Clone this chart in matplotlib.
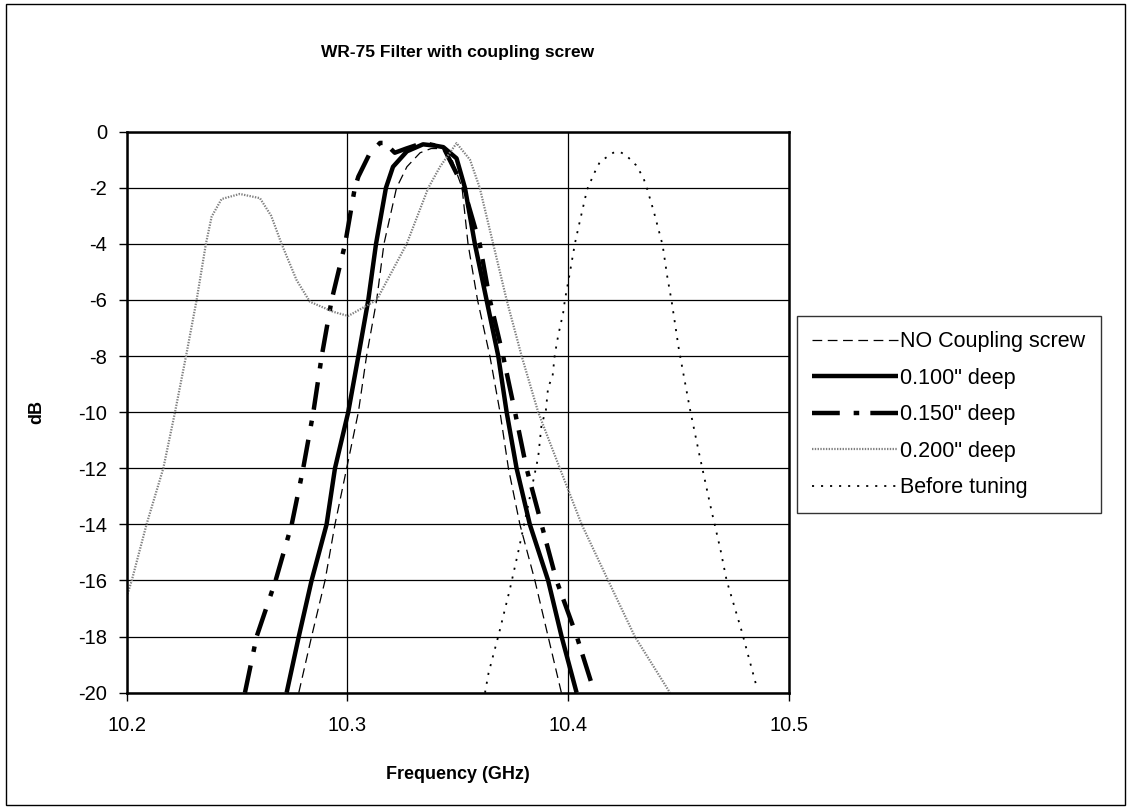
"""WR-75 filter response with coupling screw -- Excel-style line chart."""
import matplotlib
matplotlib.use("Agg")
import matplotlib.pyplot as plt
from matplotlib.patches import Rectangle

plt.rcParams.update({"font.family": ["Liberation Sans", "DejaVu Sans"],
                     "lines.scale_dashes": False})

# ---- data (GHz, dB) ----
f_none = [10.278, 10.2838, 10.2899, 10.2944, 10.2997, 10.305, 10.3087, 10.3133,
          10.3166, 10.3223, 10.327, 10.333, 10.338, 10.343, 10.347, 10.352,
          10.3547, 10.359, 10.3646, 10.3692, 10.373, 10.3782, 10.385, 10.391, 10.397]
db_none = [-20, -18, -16, -14, -12, -10, -8, -6, -4, -2, -1.25, -0.75, -0.6, -0.6,
           -0.9, -2, -4, -6, -8, -10, -12, -14, -16, -18, -20]

f_100 = [10.2725, 10.278, 10.2838, 10.2906, 10.2944, 10.3004, 10.305, 10.3095,
         10.313, 10.3175, 10.3207, 10.327, 10.3343, 10.34, 10.3435, 10.3495,
         10.3533, 10.3578, 10.3631, 10.3684, 10.3722, 10.3767, 10.3827, 10.391,
         10.3971, 10.4039]
db_100 = [-20, -18, -16, -14, -12, -10, -8, -6, -4, -2, -1.25, -0.7, -0.45, -0.5,
          -0.55, -0.95, -2, -4, -6, -8, -10, -12, -14, -16, -18, -20]

f_150 = [10.2536, 10.2589, 10.2675, 10.2748, 10.28, 10.2846, 10.2884, 10.2929,
         10.299, 10.3034, 10.305, 10.31, 10.3148, 10.317, 10.3215, 10.3267,
         10.3343, 10.3435, 10.3525, 10.36, 10.3646, 10.3706, 10.376, 10.3812,
         10.388, 10.3948, 10.404, 10.412]
db_150 = [-20, -18, -16, -14, -12, -10, -8, -6, -4, -2, -1.6, -0.8, -0.4, -0.4,
          -0.75, -0.6, -0.4, -0.55, -1.96, -4, -6, -8, -10, -12, -14, -16, -18, -20]

f_200 = [10.2, 10.2023, 10.209, 10.2166, 10.2219, 10.2269, 10.2317, 10.2359,
         10.2385, 10.243, 10.2513, 10.2604, 10.2655, 10.2702, 10.277, 10.283,
         10.2936, 10.3004, 10.3133, 10.3269, 10.3367, 10.342, 10.3495, 10.3556,
         10.36, 10.3661, 10.3722, 10.379, 10.3865, 10.3963, 10.4062, 10.4182,
         10.4303, 10.4462]
db_200 = [-16.58, -16, -14, -12, -10, -8, -6, -4, -3.03, -2.4, -2.22, -2.37, -3.0,
          -4, -5.29, -6.06, -6.42, -6.57, -6.0, -4, -2, -1.25, -0.41, -1.0, -2, -4,
          -6, -8, -10, -12, -14, -16, -18, -20]

f_before = [10.3624, 10.364, 10.3687, 10.3737, 10.3774, 10.382, 10.3865, 10.388,
            10.39, 10.391, 10.393, 10.394, 10.3956, 10.3978, 10.3986, 10.4008,
            10.4031, 10.4048, 10.4087, 10.4122, 10.4145, 10.4205, 10.4235,
            10.4262, 10.4308, 10.4341, 10.4359, 10.4389, 10.4429, 10.445, 10.447,
            10.4503, 10.4552, 10.4595, 10.465, 10.4691, 10.4719, 10.4787,
            10.4821, 10.4857]
db_before = [-20, -19.3, -17.9, -16.3, -15.0, -13.3, -11.6, -10.46, -9.92, -9.11,
             -8.73, -7.96, -7.25, -6.47, -6, -5.05, -4, -3.39, -2.05, -1.43, -1.07,
             -0.75, -0.72, -0.83, -1.19, -1.63, -2.05, -2.85, -4.05, -5.17, -6.06,
             -7.78, -9.86, -11.5, -13.5, -14.9, -16, -17.8, -18.8, -19.85]

labels = ["NO Coupling screw", '0.100" deep', '0.150" deep', '0.200" deep',
          "Before tuning"]
xticks = [10.2, 10.3, 10.4, 10.5]
xtick_labels = ["10.2", "10.3", "10.4", "10.5"]
yticks = [0, -2, -4, -6, -8, -10, -12, -14, -16, -18, -20]
ytick_labels = ["0", "-2", "-4", "-6", "-8", "-10", "-12", "-14", "-16", "-18", "-20"]

fig = plt.figure(figsize=(11.31, 8.09), dpi=100)
ax = fig.add_axes([0.112, 0.1438, 0.5853, 0.6934])

ax.plot(f_none, db_none, color="black", lw=0.9, dashes=(7, 4), label=labels[0])
ax.plot(f_100, db_100, color="black", lw=3.2, solid_capstyle="butt",
        label=labels[1])
ax.plot(f_150, db_150, color="black", lw=3.2, dashes=(20, 10, 4, 8),
        dash_capstyle="butt", label=labels[2])
ax.plot(f_200, db_200, color="0.5", lw=1.6, dashes=(1, 1), label=labels[3])
ax.plot(f_before, db_before, color="black", lw=1.3, dashes=(1.5, 5),
        label=labels[4])

ax.set_xlim(10.2, 10.5)
ax.set_ylim(-20, 0)
ax.set_xticks(xticks)
ax.set_xticklabels(xtick_labels)
ax.set_yticks(yticks)
ax.set_yticklabels(ytick_labels)
ax.tick_params(direction="out", length=6, width=1, labelsize=14.5, pad=8)
ax.tick_params(axis="x", pad=11)
ax.grid(True, color="black", linewidth=0.9)
ax.set_axisbelow(True)
for s in ax.spines.values():
    s.set_linewidth(1.8)

ax.set_title("WR-75 Filter with coupling screw", fontsize=12.5,
             fontweight="bold", pad=54)
ax.set_xlabel("Frequency (GHz)", fontsize=13, fontweight="bold", labelpad=22)
ax.set_ylabel("dB", fontsize=13, fontweight="bold", labelpad=24)

leg = fig.legend(loc="upper left", bbox_to_anchor=(0.7047, 0.6094),
                 borderaxespad=0, fontsize=15.5, frameon=True, fancybox=False,
                 edgecolor="black", handlelength=4.0, handletextpad=0.1,
                 labelspacing=0.72, borderpad=0.7)
leg.get_frame().set_linewidth(1.0)

# outer chart border
fig.patches.append(Rectangle((0.005, 0.005), 0.99, 0.99, transform=fig.transFigure,
                             fill=False, edgecolor="black", linewidth=1.0))

plt.savefig("out.png", dpi=100)
print("saved out.png")
